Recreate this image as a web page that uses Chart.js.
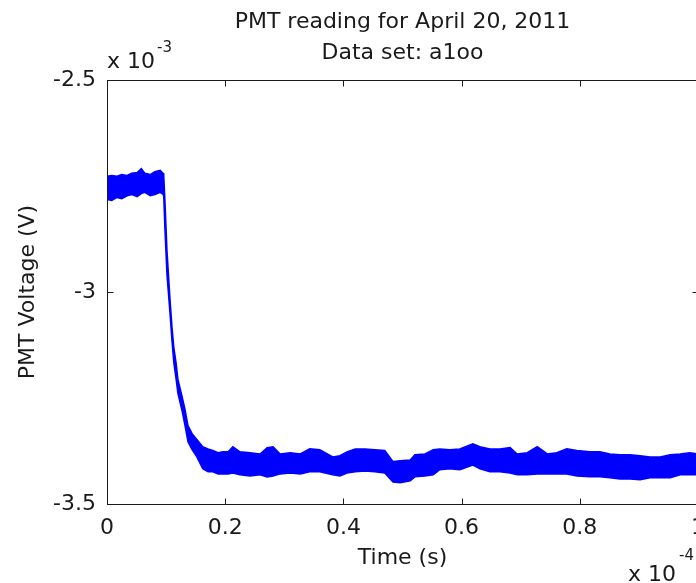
<!DOCTYPE html>
<html>
<head>
<meta charset="utf-8">
<script src="https://cdn.jsdelivr.net/npm/chart.js@4/dist/chart.umd.min.js"></script>
<style>
  html, body { margin: 0; padding: 0; background: #fff; overflow: hidden; }
  #wrap { position: relative; width: 720px; height: 583px; }
</style>
</head>
<body>
<div id="wrap"><canvas id="pmtChart" width="720" height="583"></canvas></div>
<script>
// time, in units of 1e-4 s
const timeVals = [
  0, 0.008, 0.017, 0.025, 0.034, 0.042, 0.051, 0.058, 0.064, 0.073,
  0.081, 0.090, 0.095, 0.096, 0.098, 0.1015, 0.1066, 0.110, 0.113, 0.117,
  0.120, 0.127, 0.132, 0.137, 0.144, 0.152, 0.162, 0.171, 0.179, 0.188,
  0.196, 0.205, 0.213, 0.225, 0.242, 0.259, 0.271, 0.281, 0.293, 0.310,
  0.327, 0.343, 0.360, 0.382, 0.394, 0.406, 0.420, 0.437, 0.453, 0.470,
  0.484, 0.496, 0.513, 0.521, 0.538, 0.552, 0.563, 0.580, 0.597, 0.619,
  0.631, 0.648, 0.665, 0.682, 0.694, 0.711, 0.728, 0.745, 0.761, 0.778,
  0.795, 0.817, 0.834, 0.851, 0.868, 0.885, 0.902, 0.919, 0.936, 0.953,
  0.970, 0.986, 1.0
];
// top edge of the noisy trace, in units of 1e-3 V
const upperVals = [
  -2.727, -2.725, -2.727, -2.723, -2.725, -2.720, -2.718, -2.709, -2.720, -2.723,
  -2.716, -2.713, -2.720, -2.725, -2.784, -2.903, -3.017, -3.083, -3.130, -3.168,
  -3.206, -3.246, -3.277, -3.315, -3.334, -3.348, -3.365, -3.370, -3.374, -3.379,
  -3.377, -3.377, -3.365, -3.377, -3.379, -3.382, -3.367, -3.365, -3.382, -3.379,
  -3.382, -3.370, -3.372, -3.389, -3.386, -3.377, -3.370, -3.370, -3.372, -3.374,
  -3.400, -3.398, -3.396, -3.384, -3.382, -3.372, -3.370, -3.372, -3.370, -3.358,
  -3.365, -3.370, -3.370, -3.367, -3.382, -3.379, -3.365, -3.382, -3.379, -3.370,
  -3.374, -3.377, -3.377, -3.382, -3.384, -3.384, -3.386, -3.389, -3.389, -3.384,
  -3.382, -3.379, -3.382
];
// bottom edge of the noisy trace, in units of 1e-3 V
const lowerVals = [
  -2.782, -2.784, -2.777, -2.780, -2.773, -2.770, -2.775, -2.768, -2.765, -2.773,
  -2.770, -2.765, -2.770, -2.775, -2.851, -2.960, -3.050, -3.116, -3.166, -3.206,
  -3.239, -3.280, -3.315, -3.353, -3.372, -3.389, -3.417, -3.424, -3.424, -3.429,
  -3.429, -3.429, -3.427, -3.431, -3.434, -3.431, -3.436, -3.434, -3.429, -3.427,
  -3.429, -3.424, -3.424, -3.431, -3.434, -3.427, -3.424, -3.422, -3.424, -3.427,
  -3.448, -3.450, -3.445, -3.436, -3.434, -3.431, -3.419, -3.417, -3.419, -3.408,
  -3.417, -3.424, -3.424, -3.427, -3.431, -3.431, -3.429, -3.429, -3.429, -3.429,
  -3.434, -3.436, -3.436, -3.438, -3.441, -3.441, -3.443, -3.438, -3.438, -3.438,
  -3.431, -3.431, -3.431
];
const xTicks = [0, 0.2, 0.4, 0.6, 0.8, 1];
const yTicks = [-3.5, -3, -2.5];
const titleLines = ["PMT reading for April 20, 2011", "Data set: a1oo"];
const xLabel = "Time (s)";
const yLabel = "PMT Voltage (V)";

const FONT = "DejaVu Sans";
const INK = "#1a1a1a";
const TRACE = "#0000ff";

Chart.defaults.font.family = FONT;
Chart.defaults.font.size = 22;
Chart.defaults.color = INK;

// MATLAB style frame: box, inward ticks, titles and exponent labels
const matlabFrame = {
  id: "matlabFrame",
  afterDraw(chart) {
    const ctx = chart.ctx;
    const a = chart.chartArea;
    const xs = chart.scales.x;
    const ys = chart.scales.y;
    const L = Math.round(a.left) + 0.5, R = Math.round(a.right) + 0.5;
    const T = Math.round(a.top) + 0.5, B = Math.round(a.bottom) + 0.5;
    ctx.save();
    ctx.strokeStyle = INK;
    ctx.lineWidth = 1;
    ctx.strokeRect(L, T, R - L, B - T);
    ctx.beginPath();
    xTicks.forEach((v) => {
      const px = Math.round(xs.getPixelForValue(v)) + 0.5;
      ctx.moveTo(px, B); ctx.lineTo(px, B - 6);
      ctx.moveTo(px, T); ctx.lineTo(px, T + 6);
    });
    yTicks.forEach((v) => {
      const py = Math.round(ys.getPixelForValue(v)) + 0.5;
      ctx.moveTo(L, py); ctx.lineTo(L + 6, py);
      ctx.moveTo(R, py); ctx.lineTo(R - 6, py);
    });
    ctx.stroke();

    const mid = (a.left + a.right) / 2;
    ctx.fillStyle = INK;
    ctx.textAlign = "center";
    ctx.textBaseline = "alphabetic";
    ctx.font = "22px " + FONT;
    ctx.fillText(titleLines[0], mid, 28);
    ctx.fillText(titleLines[1], mid, 59);
    ctx.fillText(xLabel, mid, 564);

    ctx.save();
    ctx.translate(34, (a.top + a.bottom) / 2);
    ctx.rotate(-Math.PI / 2);
    ctx.fillText(yLabel, 0, 0);
    ctx.restore();

    // exponent labels
    ctx.textAlign = "left";
    ctx.font = "22px " + FONT;
    ctx.fillText("x 10", 107, 68);
    ctx.fillText("x 10", 628, 581);
    ctx.font = "15px " + FONT;
    ctx.fillText("-3", 157, 52);
    ctx.fillText("-4", 679, 560);
    ctx.restore();
  }
};

const points = (vals) => timeVals.map((t, i) => ({ x: t, y: vals[i] }));

new Chart(document.getElementById("pmtChart"), {
  type: "line",
  data: {
    datasets: [
      {
        label: "upper",
        data: points(upperVals),
        borderColor: TRACE,
        backgroundColor: TRACE,
        borderWidth: 1.5,
        pointRadius: 0,
        tension: 0,
        fill: "+1",
      },
      {
        label: "lower",
        data: points(lowerVals),
        borderColor: TRACE,
        backgroundColor: TRACE,
        borderWidth: 1.5,
        pointRadius: 0,
        tension: 0,
        fill: false,
      },
    ],
  },
  options: {
    responsive: false,
    animation: false,
    layout: { padding: { left: 0, top: 80, right: 22, bottom: 0 } },
    plugins: {
      legend: { display: false },
      tooltip: { enabled: false },
      title: { display: false },
    },
    scales: {
      x: {
        type: "linear",
        min: 0,
        max: 1,
        grid: { display: false, drawTicks: false },
        border: { display: false },
        afterBuildTicks: (s) => { s.ticks = xTicks.map((v) => ({ value: v })); },
        afterFit: (s) => { s.height = 79; },
        ticks: {
          padding: 11,
          maxRotation: 0,
          callback: (v) => String(Number(v.toFixed(1))),
        },
      },
      y: {
        min: -3.5,
        max: -2.5,
        grid: { display: false, drawTicks: false },
        border: { display: false },
        afterBuildTicks: (s) => { s.ticks = yTicks.map((v) => ({ value: v })); },
        afterFit: (s) => { s.width = 107; },
        ticks: {
          padding: 11,
          callback: (v) => String(v),
        },
      },
    },
  },
  plugins: [matlabFrame],
});
</script>
</body>
</html>
